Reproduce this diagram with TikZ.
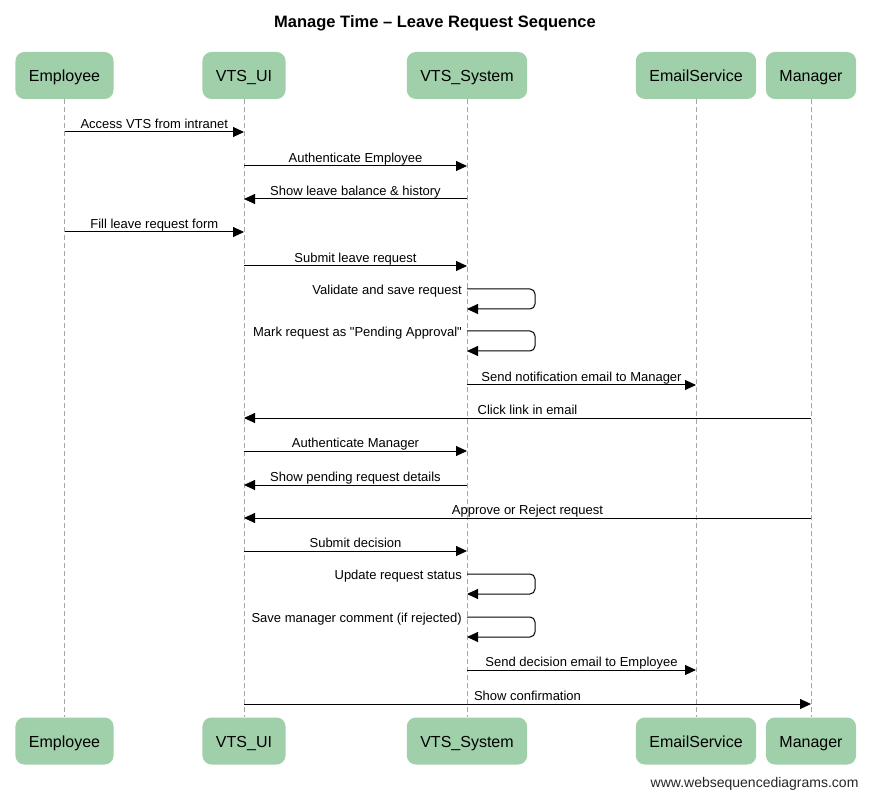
\documentclass[tikz,border=0pt]{standalone}
\usepackage{fontspec}
\setmainfont{Liberation Sans}
\usetikzlibrary{arrows.meta}
\definecolor{boxgreen}{RGB}{160,208,170}

\begin{document}
\begin{tikzpicture}[x=1pt, y=-1pt,
	actor/.style={fill=boxgreen, rounded corners=9pt, minimum height=47pt, inner xsep=13.5pt, text height=12pt, text depth=0pt, font=\fontsize{16}{19}\selectfont},
	life/.style={draw=black!35, line width=0.8pt, dash pattern=on 5pt off 3pt},
	msg/.style={line width=1pt, -{Triangle[length=11pt,width=10pt]}},
	lbl/.style={font=\fontsize{13}{15}\selectfont, inner sep=0pt, text height=9.5pt, text depth=3pt}]
		%%%%% FRAME %%%%%
		\useasboundingbox[fill=white] (0, 0) rectangle (870, 799);
		
		\node[font=\bfseries\fontsize{16.5}{19}\selectfont] (title) at (435, 23) {Manage Time – Leave Request Sequence};
		
		%%%%% PARTICIPANTS %%%%%
		\node[actor] (emp) at (64.5, 75.5) {Employee};
		\node[actor] (ui) at (244, 75.5) {VTS\_UI};
		\node[actor] (sys) at (467, 75.5) {VTS\_System};
		\node[actor] (mail) at (696, 75.5) {EmailService};
		\node[actor] (mgr) at (811, 75.5) {Manager};
		
		\node[actor] (empB) at (64.5, 741) {Employee};
		\node[actor] (uiB) at (244, 741) {VTS\_UI};
		\node[actor] (sysB) at (467, 741) {VTS\_System};
		\node[actor] (mailB) at (696, 741) {EmailService};
		\node[actor] (mgrB) at (811, 741) {Manager};
		
		\draw[life] (emp) -- (empB);
		\draw[life] (ui) -- (uiB);
		\draw[life] (sys) -- (sysB);
		\draw[life] (mail) -- (mailB);
		\draw[life] (mgr) -- (mgrB);
		
		%%%%% MESSAGES %%%%%
		\draw[msg] (emp |- 0,132) -- node[lbl, above] {Access VTS from intranet} (ui |- 0,132);
		\draw[msg] (ui |- 0,166) -- node[lbl, above] {Authenticate Employee} (sys |- 0,166);
		\draw[msg] (sys |- 0,199) -- node[lbl, above] {Show leave balance \& history} (ui |- 0,199);
		\draw[msg] (emp |- 0,232) -- node[lbl, above] {Fill leave request form} (ui |- 0,232);
		\draw[msg] (ui |- 0,266) -- node[lbl, above] {Submit leave request} (sys |- 0,266);
		
		\draw[msg, rounded corners=5pt] (sys |- 0,289) -- ++(68, 0) -- ++(0, 20) -- (sys |- 0,309);
		\node[lbl, anchor=east, xshift=-5pt] (v1) at (sys |- 0,291) {Validate and save request};
		\draw[msg, rounded corners=5pt] (sys |- 0,331) -- ++(68, 0) -- ++(0, 20) -- (sys |- 0,351);
		\node[lbl, anchor=east, xshift=-5pt] (v2) at (sys |- 0,333) {Mark request as \textquotedbl Pending Approval\textquotedbl};
		
		\draw[msg] (sys |- 0,385) -- node[lbl, above] {Send notification email to Manager} (mail |- 0,385);
		\draw[msg] (mgr |- 0,418) -- node[lbl, above] {Click link in email} (ui |- 0,418);
		\draw[msg] (ui |- 0,451) -- node[lbl, above] {Authenticate Manager} (sys |- 0,451);
		\draw[msg] (sys |- 0,485) -- node[lbl, above] {Show pending request details} (ui |- 0,485);
		\draw[msg] (mgr |- 0,518) -- node[lbl, above] {Approve or Reject request} (ui |- 0,518);
		\draw[msg] (ui |- 0,551) -- node[lbl, above] {Submit decision} (sys |- 0,551);
		
		\draw[msg, rounded corners=5pt] (sys |- 0,574) -- ++(68, 0) -- ++(0, 20) -- (sys |- 0,594);
		\node[lbl, anchor=east, xshift=-5pt] (v3) at (sys |- 0,576) {Update request status};
		\draw[msg, rounded corners=5pt] (sys |- 0,617) -- ++(68, 0) -- ++(0, 20) -- (sys |- 0,637);
		\node[lbl, anchor=east, xshift=-5pt] (v4) at (sys |- 0,619) {Save manager comment (if rejected)};
		
		\draw[msg] (sys |- 0,670) -- node[lbl, above] {Send decision email to Employee} (mail |- 0,670);
		\draw[msg] (ui |- 0,704) -- node[lbl, above] {Show confirmation} (mgr |- 0,704);
		
		\node[anchor=east, font=\fontsize{14}{16}\selectfont, text=black!85] (wsd) at (862, 784) {www.websequencediagrams.com};
		
		%%%%% END %%%%%
\end{tikzpicture}
\end{document}
